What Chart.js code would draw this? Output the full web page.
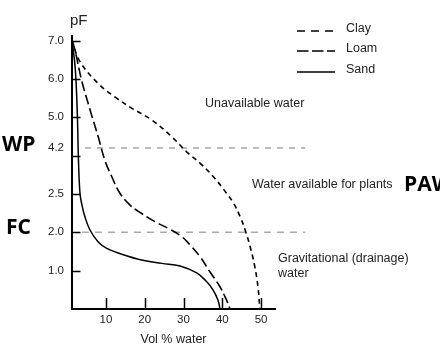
<!DOCTYPE html>
<html>
<head>
<meta charset="utf-8">
<script src="https://cdn.jsdelivr.net/npm/chart.js@4"></script>
<style>
  body { margin: 0; background: #fff; }
  #wrap { width: 440px; height: 352px; }
</style>
</head>
<body>
<div id="wrap"><canvas id="myChart"></canvas></div>
<script>
// water retention curves
const clayVol = [1.23, 3.3, 8.0, 12.3, 16.6, 21.8, 27.0, 30.8, 34.3, 37.7, 41.1, 42.9, 44.6, 45.9, 47.2, 48.4, 49.2, 49.7];
const clayPF  = [7.0, 6.45, 5.88, 5.53, 5.24, 4.93, 4.49, 4.10, 3.80, 3.45, 3.02, 2.76, 2.41, 2.06, 1.62, 1.10, 0.58, 0.0];

const loamVol = [1.23, 2.0, 3.7, 5.9, 8.0, 9.7, 11.5, 13.6, 16.2, 19.2, 22.6, 26.1, 29.4, 31.7, 34.3, 36.8, 39.4, 41.1, 42.0];
const loamPF  = [7.0, 6.75, 5.97, 5.19, 4.49, 3.88, 3.45, 3.02, 2.71, 2.49, 2.28, 2.10, 1.90, 1.67, 1.36, 0.97, 0.58, 0.23, 0.0];

const sandVol = [1.23, 1.87, 2.26, 2.65, 2.9, 3.29, 3.8, 4.58, 5.87, 8.0, 10.2, 14.05, 19.2, 24.4, 29.1, 33.4, 36.0, 37.6, 38.9, 39.4];
const sandPF  = [7.0, 6.49, 5.97, 4.93, 3.88, 3.02, 2.71, 2.40, 2.06, 1.75, 1.58, 1.43, 1.28, 1.19, 1.12, 0.94, 0.71, 0.50, 0.23, 0.0];

// WP and FC reference lines
const wpVol = [4.6, 61.4];
const wpPF = 4.2;
const fcVol = [3.8, 61.4];
const fcPF = 2.0;

const volTicks = [10, 20, 30, 40, 50];
const pfTicks = [1, 2, 3, 4, 4.2, 5, 6, 7];
const pfTickLabels = ["1.0", "2.0", "2.5", "", "4.2", "5.0", "6.0", "7.0"];
const pfTickMarks = [1, 2, 3, 4, 5, 6, 7];

function toPoints(xs, ys) {
  let pts = [];
  for (let i = 0; i < xs.length; i++) {
    pts.push({ x: xs[i], y: Array.isArray(ys) ? ys[i] : ys });
  }
  return pts;
}

const labelFont = '12.5px "Liberation Sans", Arial, sans-serif';
const boldFont = 'bold 21px "Open Sans", "Noto Sans", sans-serif';

const extras = {
  id: "extras",
  afterDraw(chart) {
    const ctx = chart.ctx;
    const xs = chart.scales.x;
    const ys = chart.scales.y;
    ctx.save();
    // inside tick marks
    ctx.strokeStyle = "#000";
    ctx.lineWidth = 1.5;
    ctx.setLineDash([]);
    pfTickMarks.forEach(v => {
      const py = Math.round(ys.getPixelForValue(v)) + 0.5;
      ctx.beginPath();
      ctx.moveTo(xs.left, py);
      ctx.lineTo(xs.left + 8.5, py);
      ctx.stroke();
    });
    volTicks.forEach(v => {
      const px = Math.round(xs.getPixelForValue(v)) + 0.5;
      ctx.beginPath();
      ctx.moveTo(px, ys.bottom);
      ctx.lineTo(px, ys.bottom - 11);
      ctx.stroke();
    });

    // legend
    const legend = [
      { text: "Clay", dash: [8, 6], y: 31 },
      { text: "Loam", dash: [11.5, 3.5], y: 51 },
      { text: "Sand", dash: [], y: 72 },
    ];
    ctx.font = labelFont;
    ctx.fillStyle = "#222";
    ctx.textBaseline = "middle";
    ctx.textAlign = "left";
    legend.forEach(l => {
      ctx.setLineDash(l.dash);
      ctx.lineWidth = 1.5;
      ctx.beginPath();
      ctx.moveTo(297, l.y);
      ctx.lineTo(335, l.y);
      ctx.stroke();
      ctx.fillText(l.text, 346, l.y - 2.5);
    });
    ctx.setLineDash([]);

    // annotations
    ctx.fillText("Unavailable water", 205, 104);
    ctx.fillText("Water available for plants", 252, 185);
    ctx.fillText("Gravitational (drainage)", 278, 259);
    ctx.fillText("water", 278, 274);

    ctx.font = '15px "Liberation Sans", Arial, sans-serif';
    ctx.fillText("pF", 70, 21);

    ctx.font = boldFont;
    ctx.fillStyle = "#000";
    ctx.fillText("WP", 2, 145);
    ctx.fillText("FC", 6, 228);
    ctx.fillText("PAW", 404, 185);
    ctx.restore();
  },
};

const ctx = document.getElementById("myChart");

new Chart(ctx, {
  type: "scatter",
  data: {
    datasets: [
      {
        data: toPoints(clayVol, clayPF),
        showLine: true,
        borderColor: "#000",
        borderWidth: 1.6,
        borderDash: [5, 4],
        pointRadius: 0,
        tension: 0.4,
      },
      {
        data: toPoints(loamVol, loamPF),
        showLine: true,
        borderColor: "#000",
        borderWidth: 1.6,
        borderDash: [10, 4],
        pointRadius: 0,
        tension: 0.4,
      },
      {
        data: toPoints(sandVol, sandPF),
        showLine: true,
        borderColor: "#000",
        borderWidth: 1.5,
        pointRadius: 0,
        tension: 0.4,
      },
      {
        data: toPoints(wpVol, wpPF),
        showLine: true,
        borderColor: "#777",
        borderWidth: 1,
        borderDash: [6, 6],
        pointRadius: 0,
        clip: false,
      },
      {
        data: toPoints(fcVol, fcPF),
        showLine: true,
        borderColor: "#aaa",
        borderWidth: 1.5,
        borderDash: [7, 6],
        pointRadius: 0,
        clip: false,
      },
    ],
  },
  options: {
    responsive: true,
    maintainAspectRatio: false,
    animation: false,
    layout: {
      padding: { left: 0, right: 165, top: 36, bottom: 0 },
    },
    plugins: {
      legend: { display: false },
      tooltip: { enabled: false },
    },
    scales: {
      x: {
        type: "linear",
        min: 1.23,
        max: 53.6,
        afterBuildTicks: (scale) => {
          scale.ticks = volTicks.map(v => ({ value: v }));
        },
        afterFit: (scale) => {
          scale.height = 43;
        },
        grid: { display: true, drawOnChartArea: false, drawTicks: false },
        border: { display: true, color: "#000", width: 2 },
        ticks: {
          padding: 4,
          color: "#222",
          font: { family: '"Liberation Sans", Arial, sans-serif', size: 11.5 },
        },
        title: {
          display: true,
          text: "Vol % water",
          color: "#222",
          font: { family: '"Liberation Sans", Arial, sans-serif', size: 12.5 },
          padding: { top: 4, bottom: 5 },
        },
      },
      y: {
        type: "linear",
        min: 0,
        max: 7.12,
        afterBuildTicks: (scale) => {
          scale.ticks = pfTicks.map(v => ({ value: v }));
        },
        afterFit: (scale) => {
          scale.width = 72;
        },
        grid: { display: true, drawOnChartArea: false, drawTicks: false },
        border: { display: true, color: "#000", width: 2 },
        ticks: {
          padding: 8,
          color: "#222",
          autoSkip: false,
          font: { family: '"Liberation Sans", Arial, sans-serif', size: 11.5 },
          callback: (value) => {
            const i = pfTicks.indexOf(value);
            return i >= 0 ? pfTickLabels[i] : "";
          },
        },
      },
    },
  },
  plugins: [extras],
});
</script>
</body>
</html>
